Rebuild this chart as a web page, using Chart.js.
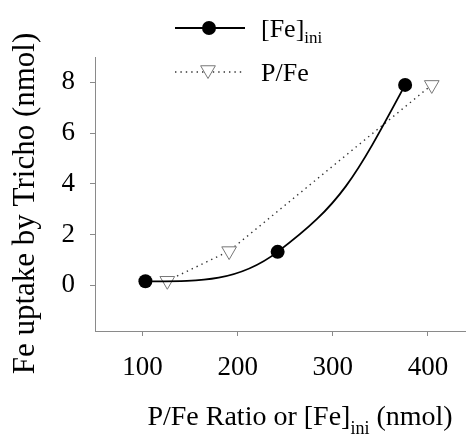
<!DOCTYPE html>
<html>
<head>
<meta charset="utf-8">
<script src="https://cdn.jsdelivr.net/npm/chart.js@4.4.1/dist/chart.umd.min.js"></script>
<style>
  html, body { margin: 0; padding: 0; background: #fff; }
  #wrap { width: 466px; height: 439px; }
</style>
</head>
<body>
<div id="wrap"><canvas id="chart" width="466" height="439"></canvas></div>
<script>
// ─── Values ─────────────────────────────────────────────────
const feIniX = [103, 242, 376];
const feIniY = [0.16, 1.32, 7.9];
const pFeX   = [126, 191, 404];
const pFeY   = [0.18, 1.35, 7.9];
const xTicks = [100, 200, 300, 400];
const yTicks = [0, 2, 4, 6, 8];
const xRange = [50, 440];
const yRange = [-1.8, 9];

const SERIF = '"Liberation Serif", "Times New Roman", serif';
const AXIS_GREY = "#8a8a8a";

function toPoints(xs, ys) {
  return xs.map((x, i) => ({ x: x, y: ys[i] }));
}

// draw a run of text pieces (for subscripts) starting at x
function drawParts(ctx, parts, x, y, align) {
  let total = 0;
  parts.forEach(p => {
    ctx.font = p.size + "px " + SERIF;
    p.w = ctx.measureText(p.t).width;
    total += p.w;
  });
  let cx = align === "center" ? x - total / 2 : x;
  ctx.textAlign = "left";
  ctx.textBaseline = "alphabetic";
  parts.forEach(p => {
    ctx.font = p.size + "px " + SERIF;
    ctx.fillText(p.t, cx, y + (p.dy || 0));
    cx += p.w;
  });
}

// ─── Parabolic end conditions for the fitted curve ───────────
// Chart.js aims the end handles along the chord; a fitted curve
// ends with slope = 2 * chord - slope at the neighbouring point,
// clamped to level if that would reverse direction (monotone).
function handleSlope(p) {
  return (p.cp2y - p.cp1y) / (p.cp2x - p.cp1x);
}
function endSlope(chord, inner) {
  const s = 2 * chord - inner;
  return s * chord < 0 ? 0 : s;
}
const parabolicEnds = {
  id: "parabolicEnds",
  beforeDatasetDraw(chart, args) {
    const ds = chart.data.datasets[args.index];
    if (!ds.parabolicEnds) return;
    const meta = args.meta;
    meta.dataset.updateControlPoints(chart.chartArea, meta.iScale.axis);
    const pts = meta.data;
    const n = pts.length;
    if (n < 3) return;

    const a = pts[0], b = pts[1];
    const s0 = endSlope((b.y - a.y) / (b.x - a.x), handleSlope(b));
    a.cp2y = a.y + s0 * (a.cp2x - a.x);

    const y = pts[n - 2], z = pts[n - 1];
    const sN = endSlope((z.y - y.y) / (z.x - y.x), handleSlope(y));
    z.cp1y = z.y + sN * (z.cp1x - z.x);
  },
};

// ─── Titles + legend (need subscripts, so drawn by hand) ─────
const decorations = {
  id: "decorations",
  afterDraw(chart) {
    const ctx = chart.ctx;
    ctx.save();
    ctx.fillStyle = "#000";

    // y title
    ctx.save();
    ctx.translate(34, 203.5);
    ctx.rotate(-Math.PI / 2);
    ctx.font = "31px " + SERIF;
    ctx.textAlign = "center";
    ctx.textBaseline = "alphabetic";
    ctx.fillText("Fe uptake by Tricho (nmol)", 0, 0);
    ctx.restore();

    // x title
    drawParts(ctx, [
      { t: "P/Fe Ratio or [Fe]", size: 28 },
      { t: "ini", size: 18, dy: 9 },
      { t: " (nmol)", size: 28 },
    ], 300, 425, "center");

    // legend row 1: solid line + filled circle
    ctx.strokeStyle = "#000";
    ctx.lineWidth = 1.8;
    ctx.setLineDash([]);
    ctx.beginPath();
    ctx.moveTo(175, 28);
    ctx.lineTo(245, 28);
    ctx.stroke();
    ctx.fillStyle = "#000";
    Chart.helpers.drawPoint(ctx, { pointStyle: "circle", radius: 7, borderWidth: 0 }, 209, 28);
    drawParts(ctx, [
      { t: "[Fe]", size: 26 },
      { t: "ini", size: 17, dy: 6 },
    ], 261, 37);

    // legend row 2: dotted line + open triangle
    ctx.strokeStyle = "#333";
    ctx.lineWidth = 1.4;
    ctx.setLineDash([1.4, 4]);
    ctx.beginPath();
    ctx.moveTo(175, 72);
    ctx.lineTo(244, 72);
    ctx.stroke();
    ctx.setLineDash([]);
    ctx.fillStyle = "#fff";
    ctx.strokeStyle = "#777";
    ctx.lineWidth = 1;
    Chart.helpers.drawPoint(ctx, { pointStyle: "triangle", radius: 8.5, rotation: 180, borderWidth: 1 }, 208, 70);
    ctx.fillStyle = "#000";
    drawParts(ctx, [{ t: "P/Fe", size: 26 }], 261, 81);

    ctx.restore();
  },
};

const chart = new Chart(document.getElementById("chart"), {
  type: "line",
  data: {
    datasets: [
      {
        label: "[Fe]ini",
        data: toPoints(feIniX, feIniY),
        parabolicEnds: true,
        borderColor: "#000",
        borderWidth: 1.8,
        tension: 0.4,
        capBezierPoints: false,
        pointStyle: "circle",
        pointRadius: 7,
        pointBackgroundColor: "#000",
        pointBorderWidth: 0,
      },
      {
        label: "P/Fe",
        data: toPoints(pFeX, pFeY),
        borderColor: "#333",
        borderWidth: 1.4,
        borderDash: [1.4, 4],
        tension: 0,
        pointStyle: "triangle",
        pointRotation: 180,
        pointRadius: 8.5,
        pointBackgroundColor: "#fff",
        pointBorderColor: "#777",
        pointBorderWidth: 1,
      },
    ],
  },
  options: {
    responsive: false,
    animation: false,
    events: [],
    layout: { autoPadding: false, padding: { top: 57, right: 0, left: 0, bottom: 0 } },
    plugins: { legend: { display: false }, tooltip: { enabled: false } },
    scales: {
      x: {
        type: "linear",
        min: xRange[0],
        max: xRange[1],
        afterBuildTicks: s => { s.ticks = xTicks.map(v => ({ value: v })); },
        afterFit: s => { s.height = 108; s.paddingLeft = 0; s.paddingRight = 0; },
        grid: { drawOnChartArea: false, drawTicks: true, tickLength: 5, color: AXIS_GREY },
        border: { color: AXIS_GREY, width: 1 },
        ticks: { color: "#000", padding: 16, font: { family: SERIF, size: 27 } },
      },
      y: {
        type: "linear",
        min: yRange[0],
        max: yRange[1],
        afterBuildTicks: s => { s.ticks = yTicks.map(v => ({ value: v })); },
        afterFit: s => { s.width = 95; s.paddingTop = 0; s.paddingBottom = 0; },
        grid: { drawOnChartArea: false, drawTicks: true, tickLength: 5, color: AXIS_GREY },
        border: { color: AXIS_GREY, width: 1 },
        ticks: { color: "#000", padding: 15, font: { family: SERIF, size: 27 } },
      },
    },
  },
  plugins: [parabolicEnds, decorations],
});
</script>
</body>
</html>
